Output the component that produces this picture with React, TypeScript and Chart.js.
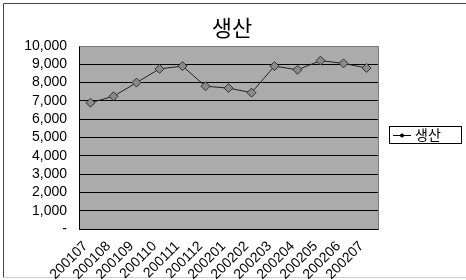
import React, { useEffect, useRef } from "react";
import { Chart, registerables } from "chart.js";

Chart.register(...registerables);

const categories = [
  "200107", "200108", "200109", "200110", "200111", "200112", "200201",
  "200202", "200203", "200204", "200205", "200206", "200207",
];
const seriesName = "생산";
const production = [6900, 7250, 8000, 8750, 8900, 7800, 7700, 7450, 8900, 8700, 9200, 9050, 8800];
const chartTitle = "생산";
const yMin = 0;
const yMax = 10000;
const yStep = 1000;

const framePlugin = {
  id: "framePlugin",
  beforeDraw(chart: any) {
    const { ctx, chartArea } = chart;
    ctx.save();
    ctx.fillStyle = "#ffffff";
    ctx.fillRect(0, 0, chart.width, chart.height);
    // outer frame
    ctx.strokeStyle = "#444";
    ctx.lineWidth = 1;
    ctx.beginPath();
    ctx.moveTo(3.5, 277.5);
    ctx.lineTo(3.5, 3.5);
    ctx.lineTo(chart.width, 3.5);
    ctx.stroke();
    ctx.strokeStyle = "#cccccc";
    ctx.beginPath();
    ctx.moveTo(3.5, 277.5);
    ctx.lineTo(chart.width, 277.5);
    ctx.stroke();
    // plot background
    ctx.fillStyle = "#ababab";
    ctx.fillRect(chartArea.left, chartArea.top, chartArea.right - chartArea.left, chartArea.bottom - chartArea.top);
    // title
    ctx.fillStyle = "#000";
    ctx.font = '22px "Noto Sans CJK KR"';
    ctx.textAlign = "center";
    ctx.textBaseline = "middle";
    ctx.fillText(chart.options.plugins.title.text, 232, 28);
    ctx.restore();
  },
  afterDraw(chart: any) {
    const { ctx, chartArea } = chart;
    ctx.save();
    // top/right plot border
    ctx.strokeStyle = "#777";
    ctx.lineWidth = 1;
    ctx.beginPath();
    ctx.moveTo(Math.round(chartArea.left) + 0.5, Math.round(chartArea.top) + 0.5);
    ctx.lineTo(Math.round(chartArea.right) + 0.5, Math.round(chartArea.top) + 0.5);
    ctx.lineTo(Math.round(chartArea.right) + 0.5, Math.round(chartArea.bottom) + 0.5);
    ctx.stroke();
    // legend
    const ds = chart.data.datasets[0];
    const lx = 389.5, ly = 126.5, lw = 72, lh = 17;
    ctx.fillStyle = "#fff";
    ctx.fillRect(lx, ly, lw, lh);
    ctx.strokeStyle = "#000";
    ctx.strokeRect(lx, ly, lw, lh);
    ctx.beginPath();
    ctx.moveTo(393, 135.5);
    ctx.lineTo(411, 135.5);
    ctx.stroke();
    ctx.fillStyle = "#000";
    ctx.beginPath();
    ctx.arc(402, 135.5, 2, 0, Math.PI * 2);
    ctx.fill();
    ctx.font = '14px "Noto Sans CJK KR"';
    ctx.textBaseline = "middle";
    ctx.textAlign = "left";
    ctx.fillText(ds.label, 415, 135);
    ctx.restore();
  },
};

export default function App() {
  const ref = useRef<HTMLCanvasElement | null>(null);
  useEffect(() => {
    if (!ref.current) return;
    const chart = new Chart(ref.current, {
      type: "line",
      data: {
        labels: categories,
        datasets: [
          {
            label: seriesName,
            data: production,
            borderColor: "#222",
            borderWidth: 1,
            pointStyle: "rectRot",
            pointRadius: 4.5,
            pointBackgroundColor: "#8a8a8a",
            pointBorderColor: "#333",
            pointBorderWidth: 1,
            tension: 0,
          },
        ],
      },
      options: {
        responsive: false,
        animation: false,
        layout: { padding: { left: 0, right: 88, top: 46, bottom: 0 } },
        plugins: {
          legend: { display: false },
          tooltip: { enabled: false },
          title: { display: false, text: chartTitle },
        },
        scales: {
          x: {
            type: "category",
            offset: true,
            grid: { display: false, drawTicks: false },
            border: { display: true, color: "#000", width: 1 },
            ticks: {
              autoSkip: false,
              maxRotation: 45,
              minRotation: 45,
              padding: 9,
              labelOffset: -5,
              color: "#000",
              font: { family: '"Liberation Sans", Arial', size: 14 },
            },
            afterFit(scale: any) {
              scale.height = 51;
            },
          },
          y: {
            min: yMin,
            max: yMax,
            grid: {
              drawTicks: false,
              color: (c: any) => (c.tick && c.tick.value === yMax ? "rgba(0,0,0,0)" : "#000"),
              lineWidth: 1,
            },
            border: { display: true, color: "#000", width: 1 },
            ticks: {
              stepSize: yStep,
              autoSkip: false,
              padding: 12,
              color: "#000",
              font: { family: '"Liberation Sans", Arial', size: 14 },
              callback: (v: any) => (Number(v) === 0 ? "-" : Number(v).toLocaleString("en-US")),
            },
            afterFit(scale: any) {
              scale.width = 79;
            },
          },
        },
      },
      plugins: [framePlugin],
    });
    return () => chart.destroy();
  }, []);
  return (
    <div style={{ position: "absolute", left: 0, top: 0, width: 466, height: 280 }}>
      <canvas ref={ref} width={466} height={280} />
    </div>
  );
}
